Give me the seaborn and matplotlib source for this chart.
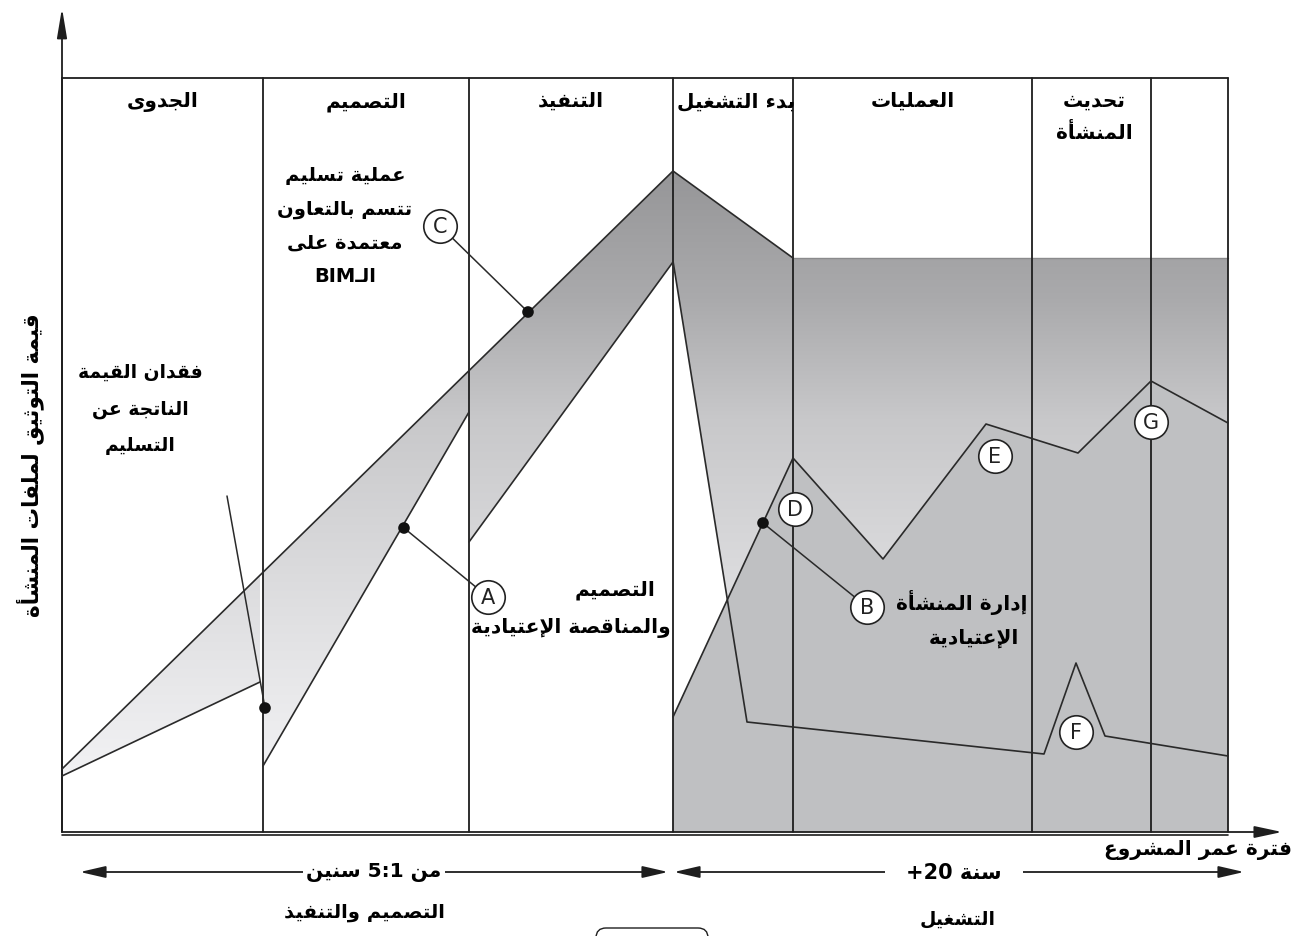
import re
import numpy as np
import pandas as pd
import matplotlib
matplotlib.use("Agg")
import matplotlib.pyplot as plt
from matplotlib.patches import Polygon, FancyBboxPatch, Rectangle
import seaborn as sns

# ---------------------------------------------------------------------------
# Data (x = project life time, y = value of facility documentation)
# ---------------------------------------------------------------------------
phase_edges = [0, 201, 407, 611, 731, 970, 1089, 1166]
phase_names = ["الجدوى", "التصميم", "التنفيذ", "بدء التشغيل", "العمليات", "تحديث\nالمنشأة", ""]
frame_top = 754

# BIM-based collaborative delivery (upper edge of the rising band)
diag_x = [0, 611]
diag_y = [63, 661]
# lower edges of the traditional bands in each delivery phase
loss_low_x = [0, 198]
loss_low_y = [56, 150]
design_low_x = [201, 407]
design_low_y = [66, 420]
build_low_x = [407, 611]
build_low_y = [290, 570]
# top of the operations envelope
ops_top_x = [611, 731, 1166]
ops_top_y = [661, 574, 574]
# traditional facility management
trad_fm_x = [611, 685, 982, 1014, 1043, 1166]
trad_fm_y = [571, 110, 78, 169, 96, 76]
# BIM-based facility management
bim_fm_x = [611, 731, 821, 924, 1016, 1089, 1166]
bim_fm_y = [115, 374, 273, 408, 379, 451, 409]

# marker dots and lettered callouts
dots_x = [203, 342, 466, 701]
dots_y = [124, 304, 520, 309]
badge_labels = ["A", "B", "C", "D", "E", "F", "G"]
badge_x = [426, 805, 378, 733, 933, 1014, 1089]
badge_y = [235, 225, 606, 323, 376, 100, 410]
leader_x = [[165, 203], [342, 426], [701, 805], [466, 378]]
leader_y = [[336, 124], [304, 235], [309, 225], [520, 606]]

# gray ramp of the value band (height -> gray level)
ramp_y = [40, 233, 413, 533, 661]
ramp_v = [244, 222, 200, 170, 150]
base_gray = "#bfc0c2"

# ---------------------------------------------------------------------------
# Arabic shaping: contextual presentation forms + right-to-left ordering
# ---------------------------------------------------------------------------
_DUAL = {
    "\u0626": 0xFE89, "\u0628": 0xFE8F, "\u062A": 0xFE95, "\u062B": 0xFE99,
    "\u062C": 0xFE9D, "\u062D": 0xFEA1, "\u062E": 0xFEA5, "\u0633": 0xFEB1,
    "\u0634": 0xFEB5, "\u0635": 0xFEB9, "\u0636": 0xFEBD, "\u0637": 0xFEC1,
    "\u0638": 0xFEC5, "\u0639": 0xFEC9, "\u063A": 0xFECD, "\u0641": 0xFED1,
    "\u0642": 0xFED5, "\u0643": 0xFED9, "\u0644": 0xFEDD, "\u0645": 0xFEE1,
    "\u0646": 0xFEE5, "\u0647": 0xFEE9, "\u064A": 0xFEF1,
}
_RIGHT = {
    "\u0622": 0xFE81, "\u0623": 0xFE83, "\u0624": 0xFE85, "\u0625": 0xFE87,
    "\u0627": 0xFE8D, "\u0629": 0xFE93, "\u062F": 0xFEA9, "\u0630": 0xFEAB,
    "\u0631": 0xFEAD, "\u0632": 0xFEAF, "\u0648": 0xFEED, "\u0649": 0xFEEF,
}
_LAM_ALEF = {"\u0622": "\uFEF5", "\u0623": "\uFEF7", "\u0625": "\uFEF9", "\u0627": "\uFEFB"}
_LIG = set(_LAM_ALEF.values())
_TATWEEL = "\u0640"


def _joins_forward(c):
    return c in _DUAL or c == _TATWEEL


def _joins_back(c):
    return c in _DUAL or c in _RIGHT or c in _LIG or c == _TATWEEL


def _shape(s):
    chars, i = [], 0
    while i < len(s):
        if s[i] == "\u0644" and i + 1 < len(s) and s[i + 1] in _LAM_ALEF:
            chars.append(_LAM_ALEF[s[i + 1]])
            i += 2
        else:
            chars.append(s[i])
            i += 1
    out = []
    for k, c in enumerate(chars):
        prev = chars[k - 1] if k > 0 else None
        nxt = chars[k + 1] if k + 1 < len(chars) else None
        jp = _joins_back(c) and prev is not None and _joins_forward(prev)
        jn = _joins_forward(c) and nxt is not None and _joins_back(nxt)
        if c in _LIG:
            out.append(chr(ord(c) + 1) if jp else c)
        elif c in _DUAL:
            idx = 3 if (jp and jn) else 1 if jp else 2 if jn else 0
            out.append(chr(_DUAL[c] + idx))
        elif c in _RIGHT:
            out.append(chr(_RIGHT[c] + (1 if jp else 0)))
        elif c == "\u0621":
            out.append("\uFE80")
        else:
            out.append(c)
    return "".join(out)


_LTR = r"[A-Za-z0-9:+]+"


def ar(text):
    lines = []
    for line in text.split("\n"):
        parts = re.split("(" + _LTR + ")", _shape(line))
        parts = [p if re.fullmatch(_LTR, p) else p[::-1] for p in parts]
        lines.append("".join(reversed(parts)))
    return "\n".join(lines)


# ---------------------------------------------------------------------------
# Figure
# ---------------------------------------------------------------------------
sns.set_theme(style="white")
plt.rcParams["font.family"] = ["DejaVu Sans"]
plt.rcParams["text.color"] = "black"

fig = plt.figure(figsize=(13.08, 9.37), dpi=100)
ax = fig.add_axes([0, 0, 1, 1])
XLIM = (-62, 1246)
YLIM = (-104, 833)

INK = "#1e1e1e"


def interp(xs, ys, x):
    return float(np.interp(x, xs, ys))


# gradient image shared by the value bands
grid_y = np.linspace(0, frame_top, 500)
levels = np.interp(grid_y, ramp_y, ramp_v) / 255.0
ramp_img = np.dstack([levels, levels, np.clip(levels + 0.008, 0, 1)]).reshape(len(grid_y), 1, 3)

d201 = interp(diag_x, diag_y, phase_edges[1])
d407 = interp(diag_x, diag_y, phase_edges[2])
regions = [
    [(diag_x[0], diag_y[0]), (loss_low_x[1], interp(diag_x, diag_y, loss_low_x[1])),
     (loss_low_x[1], loss_low_y[1]), (loss_low_x[0], loss_low_y[0])],
    [(design_low_x[0], d201), (design_low_x[1], d407),
     (design_low_x[1], design_low_y[1]), (design_low_x[0], design_low_y[0])],
    [(build_low_x[0], d407), (diag_x[1], diag_y[1]),
     (build_low_x[1], build_low_y[1]), (build_low_x[0], build_low_y[0])],
    list(zip(ops_top_x, ops_top_y)) + list(zip(trad_fm_x[::-1], trad_fm_y[::-1])),
]
for verts in regions:
    poly = Polygon(verts, closed=True, facecolor="none", edgecolor="none")
    ax.add_patch(poly)
    im = ax.imshow(ramp_img, extent=(0, phase_edges[-1], 0, frame_top), origin="lower",
                   aspect="auto", interpolation="bilinear", zorder=1)
    im.set_clip_path(poly)

# flat band under the BIM facility-management curve
base_verts = [(bim_fm_x[0], 0)] + list(zip(bim_fm_x, bim_fm_y)) + [(bim_fm_x[-1], 0)]
ax.add_patch(Polygon(base_verts, closed=True, facecolor=base_gray, edgecolor="none", zorder=1.5))

# phase grid and frame
for x in phase_edges:
    ax.plot([x, x], [0, frame_top], color=INK, lw=1.3, zorder=3)
ax.plot([phase_edges[0], phase_edges[-1]], [frame_top, frame_top], color=INK, lw=1.3, zorder=3)
ax.plot([phase_edges[0], phase_edges[-1]], [-3, -3], color=INK, lw=1.2, zorder=3)
ax.annotate("", xy=(1220, 0), xytext=(0, 0),
            arrowprops=dict(arrowstyle="-|>,head_length=1.4,head_width=0.3", color=INK, lw=1.3,
                            shrinkA=0, shrinkB=0), zorder=3)
ax.annotate("", xy=(0, 824), xytext=(0, 0),
            arrowprops=dict(arrowstyle="-|>,head_length=1.5,head_width=0.25", color=INK, lw=1.3,
                            shrinkA=0, shrinkB=0), zorder=3)

# curves
curves = {
    "diag": (diag_x, diag_y), "loss": (loss_low_x, loss_low_y),
    "design": (design_low_x, design_low_y), "build": (build_low_x, build_low_y),
    "trad": (trad_fm_x, trad_fm_y), "bim": (bim_fm_x, bim_fm_y),
    "ops_drop": (ops_top_x[:2], ops_top_y[:2]),
}
for name, (xs, ys) in curves.items():
    df = pd.DataFrame({"x": xs, "y": ys})
    sns.lineplot(data=df, x="x", y="y", sort=False, estimator=None, color="#2a2a2a",
                 lw=1.2, ax=ax, zorder=4)
sns.lineplot(data=pd.DataFrame({"x": ops_top_x[1:], "y": ops_top_y[1:]}), x="x", y="y",
             sort=False, estimator=None, color="#8a8a8c", lw=1.0, ax=ax, zorder=2)
for xs, ys in zip(leader_x, leader_y):
    sns.lineplot(data=pd.DataFrame({"x": xs, "y": ys}), x="x", y="y", sort=False,
                 estimator=None, color="#2a2a2a", lw=1.1, ax=ax, zorder=4)

sns.scatterplot(x=dots_x, y=dots_y, s=70, color="#111111", edgecolor="none", ax=ax, zorder=5)
sns.scatterplot(x=badge_x, y=badge_y, s=580, facecolor="white", edgecolor="#222222",
                linewidth=1.2, ax=ax, zorder=6)
for lab, bx, by in zip(badge_labels, badge_x, badge_y):
    ax.text(bx, by, lab, ha="center", va="center", fontsize=15, color="#222222", zorder=7)

bold = dict(fontweight="bold", color="black", zorder=7)

# phase headings (each clipped to its column)
for i, name in enumerate(phase_names):
    if not name:
        continue
    x0, x1 = phase_edges[i], phase_edges[i + 1]
    cx = (x0 + x1) / 2
    if x1 - x0 < 150:
        cx = x1 - 57
    t = ax.text(cx, 741, ar(name), ha="center", va="top", fontsize=14.5,
                linespacing=1.75, **bold)
    col = Rectangle((x0, 0), x1 - x0, frame_top, transform=ax.transData)
    t.set_clip_path(col)

ax.text(283, 607, ar("عملية تسليم\nتتسم بالتعاون\nمعتمدة على\nالـBIM"), ha="center",
        va="center", fontsize=14, linespacing=1.98, **bold)
ax.text(78, 424, ar("فقدان القيمة\nالناتجة عن\nالتسليم"), ha="center", va="center",
        fontsize=13.5, linespacing=2.18, **bold)
ax.text(593, 243, ar("التصميم"), ha="right", va="center", fontsize=14.5, **bold)
ax.text(609, 205, ar("والمناقصة الإعتيادية"), ha="right", va="center", fontsize=14.5, **bold)
ax.text(966, 231, ar("إدارة المنشأة"), ha="right", va="center", fontsize=14.5, **bold)
ax.text(957, 195, ar("الإعتيادية"), ha="right", va="center", fontsize=14.5, **bold)

# axis titles
ax.text(-32, 368, ar("قيمة التوثيق لملفات المنشأة"), rotation=90, ha="center", va="center",
        fontsize=15.5, **bold)
ax.text(1136, -17, ar("فترة عمر المشروع"), ha="center", va="center", fontsize=14.5, **bold)

# duration spans below the axis
span_style = "<|-|>,head_length=1.3,head_width=0.3"
ax.annotate("", xy=(18, -40), xytext=(606, -40),
            arrowprops=dict(arrowstyle=span_style, color=INK, lw=1.3, shrinkA=0, shrinkB=0))
ax.annotate("", xy=(612, -40), xytext=(1182, -40),
            arrowprops=dict(arrowstyle=span_style, color=INK, lw=1.3, shrinkA=0, shrinkB=0))
ax.text(312, -40, ar("من 5:1 سنين"), ha="center", va="center", fontsize=14.5, zorder=8,
        fontweight="bold", color="black",
        bbox=dict(boxstyle="square,pad=0.15", fc="white", ec="none"))
ax.text(892, -40, ar("سنة +20"), ha="center", va="center", fontsize=15, zorder=8,
        fontweight="bold", color="black",
        bbox=dict(boxstyle="square,pad=1.0", fc="white", ec="none"))
ax.text(302, -80, ar("التصميم والتنفيذ"), ha="center", va="center", fontsize=14, **bold)
ax.text(896, -86, ar("التشغيل"), ha="center", va="center", fontsize=13.5, **bold)

# partially visible frame at the lower edge
ax.add_patch(FancyBboxPatch((534, -140), 112, 44, boxstyle="round,pad=0,rounding_size=10",
                            fc="white", ec=INK, lw=1.0, zorder=2))

ax.set_xlim(*XLIM)
ax.set_ylim(*YLIM)
ax.axis("off")
fig.savefig("out.png", dpi=100)
